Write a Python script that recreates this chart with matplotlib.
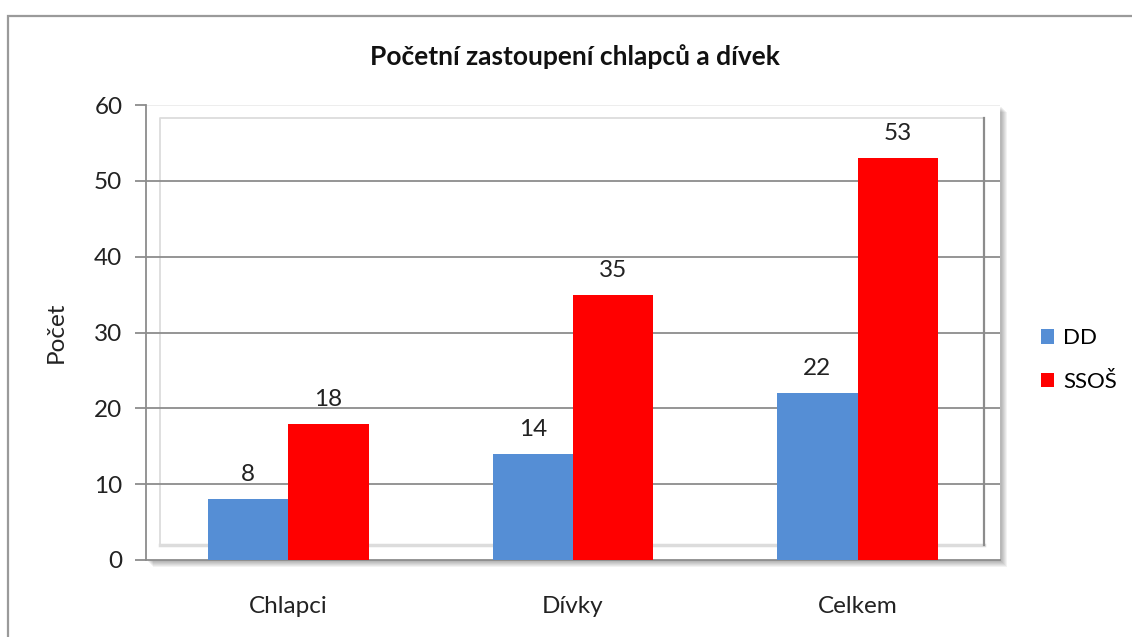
import matplotlib.pyplot as plt
from matplotlib.patches import Rectangle
import numpy as np

plt.rcParams['font.family'] = ['Lato', 'DejaVu Sans']

# data
kategorie = ['Chlapci', 'Dívky', 'Celkem']
dd = [8, 14, 22]
ssos = [18, 35, 53]
serie = ['DD', 'SSOŠ']
y_ticks = [0, 10, 20, 30, 40, 50, 60]

W, H = 1132, 637
fig = plt.figure(figsize=(W / 100, H / 100), dpi=100)
fig.patch.set_facecolor('white')

# outer frame of the chart
fig.patches.append(Rectangle((8 / W, -0.1), 1.2, 1 - 16 / H + 0.1, transform=fig.transFigure,
                             fill=False, edgecolor='#9a9a9a', linewidth=1.6, zorder=0))

ax_l, ax_b, ax_w, ax_h = 146 / W, 1 - 560 / H, 854 / W, 455 / H

# soft shadow of the plot area
for k in range(1, 7):
    fig.patches.append(Rectangle((ax_l + (k + 1) / W, ax_b - (k + 1) / H), ax_w, ax_h,
                                 transform=fig.transFigure, facecolor='black',
                                 edgecolor='none', alpha=0.05, zorder=0.5))

ax = fig.add_axes([ax_l, ax_b, ax_w, ax_h])
ax.set_zorder(2)
ax.set_facecolor('white')
ax.set_xlim(-0.5, 2.5)
ax.set_ylim(0, 60)

x = np.arange(len(kategorie))
sirka = 80.5 / 284.67

# back wall (3D look)
px_x = 3 / 854.0
px_y = 60 / 455.0
ax.plot([-0.5 + 14 * px_x, -0.5 + 14 * px_x, 2.5 - 16 * px_x], [2, 60 - 13 * px_y, 60 - 13 * px_y],
        color='#dcdcdc', lw=1.3, zorder=1)
ax.plot([-0.5 + 14 * px_x, 2.5 - 16 * px_x], [2, 2], color='#dcdcdc', lw=2.5, zorder=1)
ax.plot([2.5 - 16 * px_x, 2.5 - 16 * px_x], [2, 60 - 13 * px_y], color='#8c8c8c', lw=1.6, zorder=1)

for t in y_ticks[1:-1]:
    ax.axhline(t, color='#8c8c8c', lw=1.3, zorder=1)
ax.axhline(60, color='#ececec', lw=1.3, zorder=1)

b1 = ax.bar(x - sirka / 2, dd, sirka, color='#558ED5', label=serie[0], zorder=3)
b2 = ax.bar(x + sirka / 2, ssos, sirka, color='#FF0000', label=serie[1], zorder=3)

for bars in (b1, b2):
    ax.bar_label(bars, padding=10, fontsize=17.5, color='#222222')

for s in ['top', 'right']:
    ax.spines[s].set_visible(False)
ax.spines['left'].set_color('#8c8c8c')
ax.spines['left'].set_linewidth(1.3)
ax.spines['bottom'].set_color('#8c8c8c')
ax.spines['bottom'].set_linewidth(1.3)

ax.set_yticks(y_ticks)
ax.tick_params(axis='y', length=8, width=1.3, color='#8c8c8c', labelsize=17.5, pad=9, labelcolor='#222222')
ax.set_xticks(x)
ax.set_xticklabels(kategorie)
ax.tick_params(axis='x', length=0, labelsize=17.5, pad=26, labelcolor='#222222')

ax.set_ylabel('Počet', fontsize=17.5, color='#222222', labelpad=20)

fig.text(575 / W, 1 - 57 / H, 'Početní zastoupení chlapců a dívek', ha='center', va='center',
         fontsize=19, fontweight='bold', color='#111111')

fig.legend(handles=[b1, b2], labels=serie, loc='center left', bbox_to_anchor=(1041 / W, 1 - 360 / H),
           frameon=False, fontsize=16, handlelength=0.6, handleheight=0.6, handletextpad=0.4,
           labelspacing=1.05, borderpad=0, borderaxespad=0)

fig.savefig('out.png', dpi=100)
